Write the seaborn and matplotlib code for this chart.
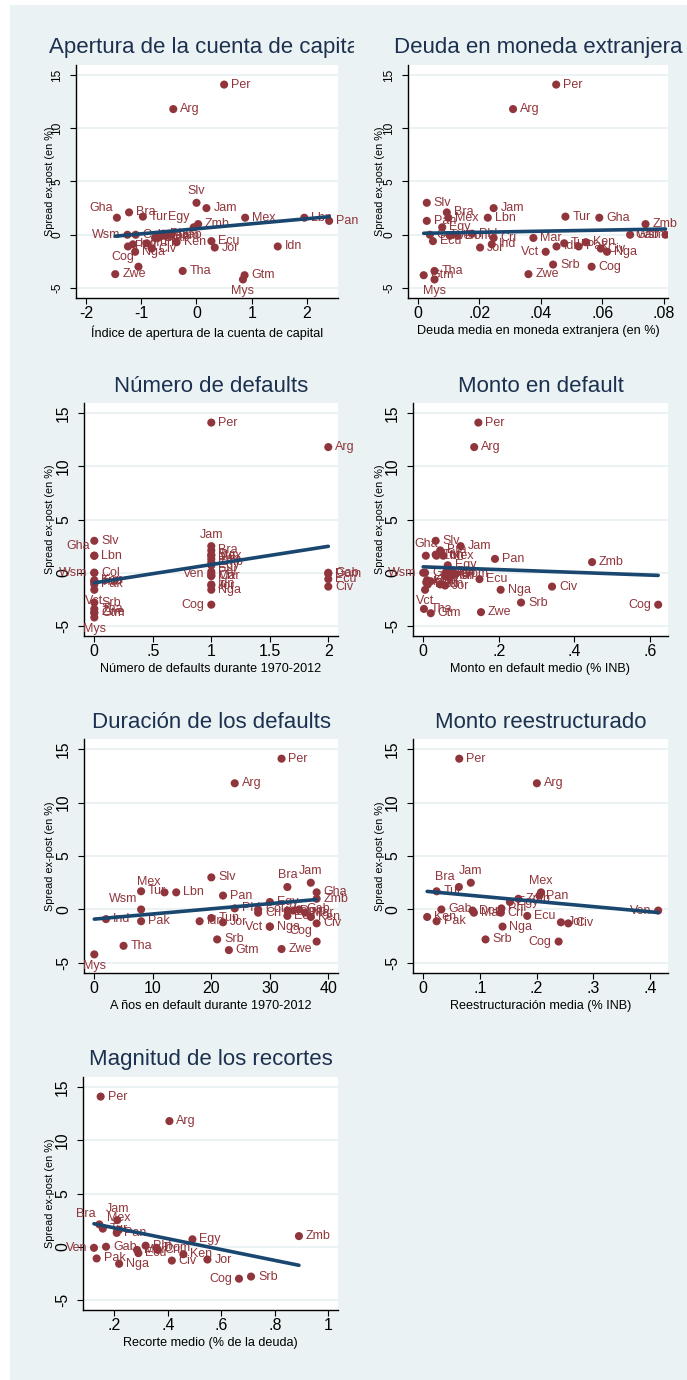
import numpy as np
import pandas as pd
import matplotlib
matplotlib.use("Agg")
import matplotlib.pyplot as plt
import seaborn as sns
from matplotlib.patches import Rectangle
from matplotlib.transforms import Bbox, TransformedBbox

nan = np.nan

# ---------------- data ----------------
countries = ["Per", "Arg", "Slv", "Jam", "Bra", "Gha", "Tur", "Mex", "Lbn", "Pan",
             "Zmb", "Egy", "Phl", "Col", "Wsm", "Gab", "Dom", "Ven", "Cri", "Mar",
             "Ecu", "Ken", "Tun", "Ind", "Idn", "Pak", "Jor", "Civ", "Nga", "Vct",
             "Srb", "Cog", "Tha", "Zwe", "Gtm", "Mys"]
spread = [14.1, 11.8, 3.0, 2.5, 2.1, 1.6, 1.7, 1.6, 1.6, 1.3,
          1.0, 0.7, 0.1, 0.0, 0.0, 0.0, -0.1, -0.1, -0.3, -0.3,
          -0.6, -0.7, -0.8, -0.9, -1.1, -1.1, -1.2, -1.3, -1.6, -1.6,
          -2.8, -3.0, -3.4, -3.7, -3.8, -4.2]

apertura = [0.50, -0.42, 0.00, 0.18, -1.22, -1.44, -0.97, 0.88, 1.95, 2.40,
            0.03, -0.05, -0.60, -1.10, -1.25, -0.45, -0.55, -0.62, -0.75, -0.70,
            0.27, -0.36, -0.90, -1.15, 1.47, -1.24, 0.33, -0.81, -1.11, nan,
            nan, -1.05, -0.25, -1.47, 0.87, 0.84]
deuda_me = [0.045, 0.031, 0.003, 0.0247, 0.0095, 0.059, 0.048, 0.0100, 0.0228, 0.003,
            0.074, 0.008, 0.0177, 0.004, 0.069, 0.0805, 0.013, 0.0105, 0.0247, 0.0376,
            0.005, 0.0546, 0.0476, 0.0241, 0.0451, 0.0523, 0.0203, 0.0595, 0.0615, 0.0416,
            0.044, 0.0565, 0.0055, 0.036, 0.002, 0.0055]
num_defaults = [1, 2, 0, 1, 1, 0, 1, 1, 0, 1,
                1, 1, 1, 0, 0, 2, 2, 1, 1, 1,
                2, 0, 0, 0, 1, 0, 1, 2, 1, 0,
                0, 1, 0, 0, 0, 0]
monto_default = [0.146, 0.135, 0.033, 0.099, 0.045, 0.007, 0.033, 0.053, 0.035, 0.19,
                 0.447, 0.065, 0.072, 0.06, 0.0, 0.005, 0.085, 0.062, 0.075, 0.058,
                 0.149, 0.01, 0.02, 0.008, 0.045, 0.012, 0.058, 0.341, 0.205, 0.005,
                 0.259, 0.622, 0.002, 0.153, 0.02, nan]
anios_default = [32, 24, 20, 37, 33, 38, 8, 12, 14, 22,
                 38, 30, 24, 28, 8, 35, 34, 33, 28, 36,
                 33, 37, 20, 2, 18, 8, 22, 38, 30, 30,
                 21, 38, 5, 32, 23, 0]
monto_reestr = [0.0636, 0.2006, nan, 0.084, 0.063, nan, 0.0236, 0.208, nan, 0.205,
                0.168, 0.153, 0.138, nan, nan, 0.032, 0.087, 0.4147, 0.137, 0.0895,
                0.1836, 0.007, nan, nan, nan, 0.0236, 0.243, 0.256, 0.14, nan,
                0.11, 0.239, nan, nan, nan, nan]
recorte = [0.149, 0.406, nan, 0.211, 0.144, nan, 0.157, 0.218, nan, 0.209,
           0.89, 0.492, 0.317, nan, nan, 0.169, 0.358, 0.124, 0.363, 0.285,
           0.29, 0.458, nan, nan, nan, 0.134, 0.548, 0.415, 0.218, nan,
           0.711, 0.666, nan, nan, nan, nan]

titles = ["Apertura de la cuenta de capital", "Deuda en moneda extranjera",
          "Número de defaults", "Monto en default",
          "Duración de los defaults", "Monto reestructurado",
          "Magnitud de los recortes"]
xlabels = ["Índice de apertura de la cuenta de capital",
           "Deuda media en moneda extranjera (en %)",
           "Número de defaults durante 1970-2012",
           "Monto en default medio (% INB)",
           "A ños en default durante 1970-2012",
           "Reestructuración media (% INB)",
           "Recorte medio (% de la deuda)"]
ylabel = "Spread ex-post (en %)"
xticks = [[-2, -1, 0, 1, 2], [0, 0.02, 0.04, 0.06, 0.08], [0, 0.5, 1, 1.5, 2],
          [0, 0.2, 0.4, 0.6], [0, 10, 20, 30, 40], [0, 0.1, 0.2, 0.3, 0.4],
          [0.2, 0.4, 0.6, 0.8, 1]]
xticklabels = [["-2", "-1", "0", "1", "2"], ["0", ".02", ".04", ".06", ".08"],
               ["0", ".5", "1", "1.5", "2"], ["0", ".2", ".4", ".6"],
               ["0", "10", "20", "30", "40"], ["0", ".1", ".2", ".3", ".4"],
               [".2", ".4", ".6", ".8", "1"]]
yticks = [-5, 0, 5, 10, 15]
yticklabels = ["-5", "0", "5", "10", "15"]

xseries = [apertura, deuda_me, num_defaults, monto_default, anios_default,
           monto_reestr, recorte]

# ---------------- layout / style ----------------
W, H = 687, 1380
BG = "#EAF2F3"
MAROON = "#90353B"
NAVY = "#1A476F"
TITLE_C = "#1C3050"

# panel boxes in pixels: left, right, top, bottom
boxes = [(76, 338, 65, 298), (408, 668, 65, 298),
         (84, 338, 403, 636), (413, 668, 403, 636),
         (84, 338, 739, 973), (413, 668, 739, 973),
         (83, 338, 1077, 1310)]
xlims = [(-2.18, 2.56), (-0.0031, 0.0813), (-0.088, 2.083), (-0.027, 0.648),
         (-1.76, 41.65), (-0.018, 0.432), (0.083, 1.036)]
ylim = (-5.94, 15.94)
ylab_px = [55, 385, 55, 385, 55, 385, 55]

# label placement overrides (default: right of marker)
place = [
    {"Gha": "ul", "Cog": "ul", "Wsm": "l", "Mys": "b", "Slv": "a", "Egy": "ul"},
    {"Mys": "b", "Vct": "l", "Gab": "l"},
    {"Gha": "ul", "Wsm": "l", "Vct": "b", "Mys": "b", "Ven": "l", "Cog": "l", "Jam": "a"},
    {"Wsm": "l", "Vct": "b", "Cog": "l", "Gha": "a"},
    {"Vct": "l", "Mys": "b", "Wsm": "ul", "Mex": "ul", "Bra": "a", "Jam": "a", "Cog": "ul"},
    {"Ven": "l", "Cog": "l", "Bra": "ul", "Jam": "a", "Mex": "a"},
    {"Ven": "l", "Cog": "l", "Bra": "ul", "Jam": "a", "Mex": "a"},
]
offs = {"r": ((5, 0), "left", "center"), "l": ((-5, 0), "right", "center"),
        "a": ((0, 4), "center", "bottom"), "b": ((0, -4), "center", "top"),
        "ul": ((-3, 3), "right", "bottom")}

sns.set_theme(style="white")
plt.rcParams["font.family"] = ["Liberation Sans", "DejaVu Sans"]

fig = plt.figure(figsize=(W / 100, H / 100), dpi=100, facecolor="white")
fig.patches.append(Rectangle((10 / W, 0), (W - 10) / W, (H - 5) / H,
                             transform=fig.transFigure, facecolor=BG,
                             edgecolor="none", zorder=-10))

for i in range(7):
    l, r, t, b = boxes[i]
    ax = fig.add_axes([l / W, 1 - b / H, (r - l) / W, (b - t) / H])
    ax.set_facecolor("white")
    df = pd.DataFrame({"x": xseries[i], "y": spread, "c": countries}).dropna()

    sns.scatterplot(data=df, x="x", y="y", color=MAROON, s=34, edgecolor="none",
                    linewidth=0, ax=ax, zorder=3, legend=False)
    sns.regplot(data=df, x="x", y="y", scatter=False, ci=None, truncate=True,
                line_kws=dict(color=NAVY, lw=2.6, zorder=4), ax=ax)
    for _, row in df.iterrows():
        (dx, dy), ha, va = offs[place[i].get(row["c"], "r")]
        ax.annotate(row["c"], (row["x"], row["y"]), xytext=(dx, dy),
                    textcoords="offset points", ha=ha, va=va, fontsize=9,
                    color=MAROON, zorder=3)

    ax.set_xlim(*xlims[i])
    ax.set_ylim(*ylim)
    ax.set_xticks(xticks[i])
    ax.set_xticklabels(xticklabels[i], fontsize=11.5)
    ytfs = 8.6 if i < 2 else 11.3
    ax.set_yticks(yticks)
    ax.set_yticklabels(yticklabels, fontsize=ytfs, rotation=90, va="center")
    ax.tick_params(axis="both", direction="out", length=4.3, width=0.8,
                   color="black", labelcolor="black", left=True, bottom=True)
    ax.tick_params(axis="y", pad=5.0)
    ax.tick_params(axis="x", pad=1.5)
    for s in ["top", "right"]:
        ax.spines[s].set_visible(False)
    for s in ["left", "bottom"]:
        ax.spines[s].set_color("black")
        ax.spines[s].set_linewidth(1.0)
    ax.yaxis.grid(True, color=BG, lw=1.4)
    ax.xaxis.grid(False)
    ax.set_axisbelow(True)

    wpx, hpx = r - l, b - t
    ax.set_xlabel(xlabels[i], fontsize=9.1, color="black")
    ax.xaxis.set_label_coords(0.5, -27 / hpx)
    ax.set_ylabel(ylabel, fontsize=7.8, color="black")
    ax.yaxis.set_label_coords((ylab_px[i] - l) / wpx, 0.5)

    txt = ax.text(0.5, 1 + 17 / hpx, titles[i], transform=ax.transAxes,
                  ha="center", va="center", fontsize=16, color=TITLE_C)
    if i == 0:
        txt.set_clip_on(True)
        txt.set_clip_box(TransformedBbox(Bbox([[0, 0], [354 / W, 1]]), fig.transFigure))

fig.savefig("out.png", dpi=100, facecolor="white")
